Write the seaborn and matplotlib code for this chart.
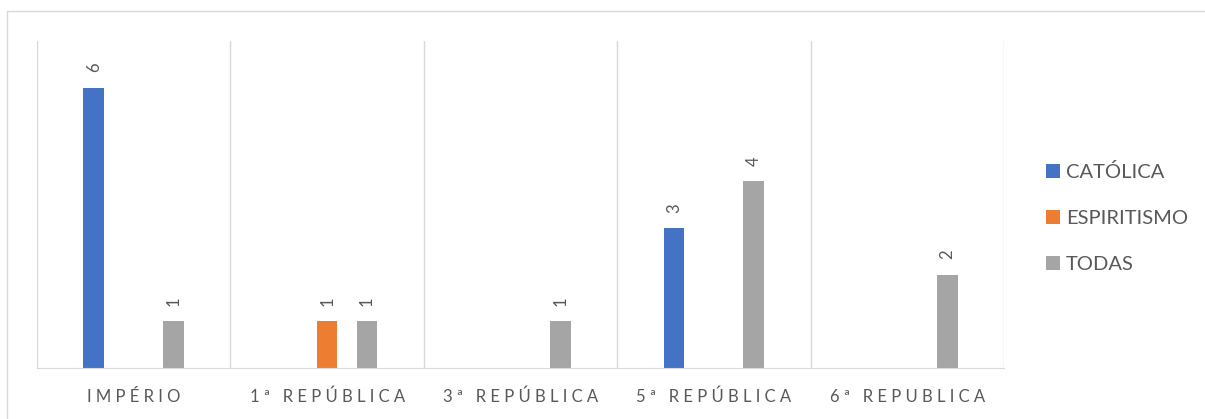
import numpy as np
import pandas as pd
import matplotlib
matplotlib.use("Agg")
import matplotlib.pyplot as plt
from matplotlib.patches import Rectangle
import seaborn as sns

# dados do gráfico
periodos = ["IMPÉRIO", "1ª  REPÚBLICA", "3ª REPÚBLICA", "5ª REPÚBLICA", "6ª  REPUBLICA"]
series = ["CATÓLICA", "ESPIRITISMO", "TODAS"]
catolica = [6, 0, 0, 3, 0]
espiritismo = [0, 1, 0, 0, 0]
todas = [1, 1, 1, 4, 2]
cores = ["#4472C4", "#ED7D31", "#A5A5A5"]

df = pd.DataFrame({
    "periodo": periodos * 3,
    "serie": [s for s in series for _ in periodos],
    "valor": catolica + espiritismo + todas,
})

sns.set_style("white")
plt.rcParams["font.family"] = ["Lato", "DejaVu Sans"]

fig = plt.figure(figsize=(12.05, 4.19), dpi=100)
ax = fig.add_axes([37 / 1205, 1 - 368 / 419, (1004 - 37) / 1205, (368 - 41) / 419])

sns.barplot(data=df, x="periodo", y="valor", hue="serie", palette=cores,
            saturation=1, width=0.62, gap=0.48, linewidth=0, ax=ax, legend=True)

# rótulos dos valores (girados)
for cont in ax.containers:
    rot = [str(int(v)) if v > 0 else "" for v in cont.datavalues]
    ax.bar_label(cont, labels=rot, rotation=90, padding=11, color="#595959", fontsize=12)

ax.set_xlim(-0.5, 4.5)
ax.set_ylim(0, 7)
ax.set_yticks([])
ax.set_xlabel("")
ax.set_ylabel("")

# rótulos do eixo x com espaçamento entre letras
espaco = [" ".join(p.replace("  ", " ")) for p in periodos]
ax.set_xticks(range(len(periodos)))
ax.set_xticklabels(espaco, color="#595959", fontsize=12)
ax.tick_params(axis="x", length=0, pad=15)

# linhas verticais entre categorias
ax.set_xticks(np.arange(-0.5, 5, 1), minor=True)
ax.tick_params(axis="x", which="minor", length=0)
ax.grid(which="minor", axis="x", color="#d9d9d9", lw=1)
for s in ["top", "right", "left"]:
    ax.spines[s].set_visible(False)
ax.spines["bottom"].set_color("#d9d9d9")

h, l = ax.get_legend_handles_labels()
ax.get_legend().remove()
fig.legend(h, l, loc="center left", bbox_to_anchor=(1046 / 1205, 1 - 218 / 419),
           frameon=False, handlelength=0.7, handleheight=0.7, handletextpad=0.3,
           labelspacing=1.45, fontsize=14.5, labelcolor="#595959",
           borderpad=0, borderaxespad=0)

# borda do gráfico
fig.patches.append(Rectangle((7 / 1205, -0.1), 1.2, 1 - 11 / 419 + 0.1, fill=False,
                             edgecolor="#d9d9d9", lw=1, transform=fig.transFigure))

fig.savefig("out.png", dpi=100)
